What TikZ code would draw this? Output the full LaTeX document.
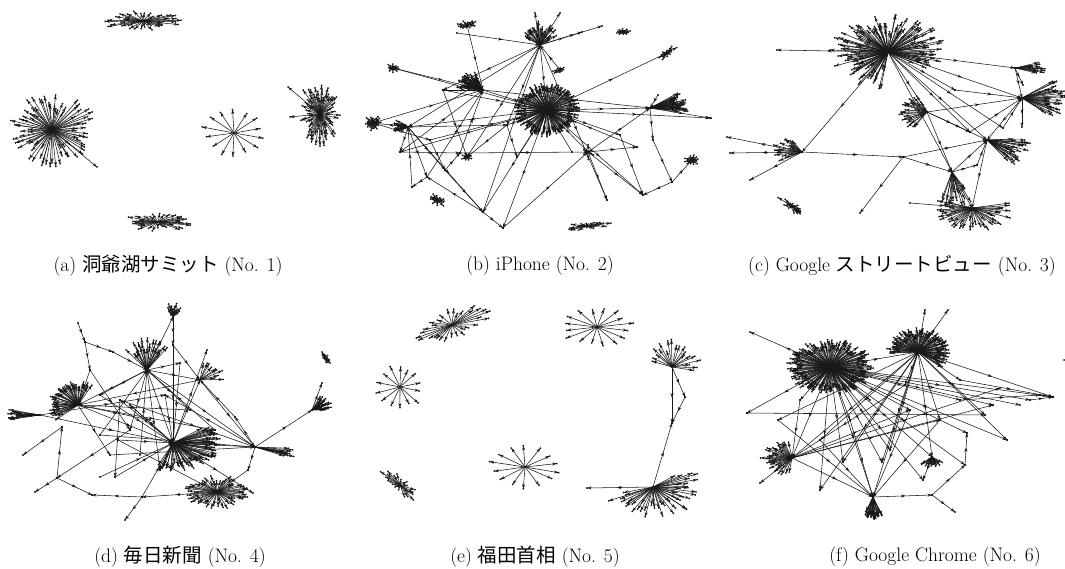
\documentclass[tikz,border=0pt]{standalone}
\usepackage{fontspec}
\newfontfamily\cjk{Noto Sans CJK JP}
\usetikzlibrary{arrows.meta,decorations.markings}
\tikzset{
  e/.style={draw=black!90, line width=0.55pt, -{Stealth[length=4.6pt,width=3pt]}},
  le/.style={e, postaction={decorate}, decoration={markings, mark=at position 0.55 with {\arrow{Stealth[length=4.6pt,width=3pt]}}}},
  captext/.style={font=\fontsize{19.5}{22}\selectfont, inner sep=0pt, anchor=center},
}
% hub, count, angle from, angle to, rx, ry, min radius fraction, rotation
\newcommand\hubfan[8]{%
  \foreach \k in {1,...,#2}{%
    \pgfmathsetmacro\ang{(#3)+((#4)-(#3))/(#2)*(\k-0.5)+3*rand}%
    \pgfmathsetmacro\rr{(#7)+(1-(#7))*rnd}%
    \pgfmathsetmacro\px{(#5)*\rr*cos(\ang)}%
    \pgfmathsetmacro\py{(#6)*\rr*sin(\ang)}%
    \pgfmathsetmacro\qx{\px*cos(#8)-(\py)*sin(#8)}%
    \pgfmathsetmacro\qy{\px*sin(#8)+(\py)*cos(#8)}%
    \draw[e] (#1) -- ++(\qx,\qy) coordinate (t);
    \fill[black!90] (t) circle (1);
  }}
\newcommand\links[1]{\foreach \u/\v in {#1}{\draw[le] (\u) -- (\v); \fill[black!90] (\u) circle (1.1) (\v) circle (1.1);}}
\begin{document}
\begin{tikzpicture}[x=1pt,y=-1pt]
\pgfmathsetseed{4242}
\fill[white] (0,0) rectangle (1065,569);
\useasboundingbox (0,0) rectangle (1065,569);

% ================= (a)
\coordinate (a1) at (143,21);
\coordinate (a2) at (52,130);
\coordinate (a3) at (234,133);
\coordinate (a4) at (320,114);
\coordinate (a5) at (158,222);
\coordinate (a2x) at (97,167);
\coordinate (a4x) at (288,87);
\coordinate (a4y) at (290,117);
\coordinate (a4z) at (303,90);
\hubfan{a1}{36}{0}{360}{43}{10}{0.45}{0}
\hubfan{a2}{80}{0}{360}{46}{38}{0.5}{0}
\hubfan{a3}{14}{0}{360}{33}{25}{0.8}{0}
\hubfan{a4}{64}{0}{360}{20}{33}{0.45}{0}
\hubfan{a5}{34}{0}{360}{40}{9}{0.45}{0}
\foreach \v in {a2x,a4x,a4y,a4z}{\fill[black!90] (\v) circle (1);}
\draw[e] (a2) -- (a2x);
\draw[e] (a4) -- (a4x);
\draw[e] (a4) -- (a4y);
\draw[e] (a4) -- (a4z);

% ================= (b)
\coordinate (bH) at (547,110);
\coordinate (bT) at (540,45);
\coordinate (bTL) at (467,25);
\coordinate (bTL2) at (457,33);
\coordinate (bTR) at (623,32);
\coordinate (bRD) at (667,53);
\coordinate (bB1) at (560,70);
\coordinate (bLT) at (393,68);
\coordinate (bL1) at (483,90);
\coordinate (bL2) at (408,127);
\coordinate (bLL) at (373,123);
\coordinate (bR) at (650,108);
\coordinate (bR2) at (658,95);
\coordinate (bM) at (588,152);
\coordinate (bBot) at (483,212);
\coordinate (bC) at (507,125);
\coordinate (bN1) at (460,153);
\coordinate (bN2) at (443,90);
\coordinate (bN3) at (427,177);
\coordinate (bN4) at (412,187);
\coordinate (bBl) at (437,200);
\coordinate (bN5) at (503,228);
\coordinate (bBB) at (587,226);
\coordinate (bN6) at (643,195);
\coordinate (bN7) at (672,182);
\coordinate (bBR) at (692,160);
\coordinate (bN8) at (710,118);
\coordinate (bN9) at (607,200);
\coordinate (bN10) at (637,147);
\coordinate (bN11) at (653,140);
\coordinate (bN12) at (467,157);
\coordinate (bN13) at (400,152);
\coordinate (bN14) at (445,170);
\coordinate (bN15) at (517,157);
\coordinate (bN16) at (572,152);
\coordinate (bN17) at (602,26);
\coordinate (bN18) at (535,13);
\coordinate (bN19) at (560,13);
\coordinate (bN20) at (582,32);
\coordinate (bN21) at (430,140);
\coordinate (bN22) at (620,135);
\hubfan{bH}{150}{0}{360}{33}{27}{0.75}{0}
\hubfan{bT}{30}{200}{340}{20}{24}{0.5}{0}
\hubfan{bTL}{12}{0}{360}{12}{5}{0.4}{-15}
\hubfan{bTR}{10}{0}{360}{9}{4}{0.4}{0}
\hubfan{bRD}{12}{0}{360}{12}{4}{0.4}{-35}
\hubfan{bB1}{8}{0}{360}{8}{4}{0.4}{-20}
\hubfan{bLT}{10}{0}{360}{9}{5}{0.4}{0}
\hubfan{bL1}{44}{185}{250}{27}{22}{0.5}{0}
\hubfan{bL2}{20}{150}{220}{15}{12}{0.4}{0}
\hubfan{bLL}{22}{0}{360}{9}{8}{0.4}{0}
\hubfan{bR}{32}{-30}{8}{38}{32}{0.6}{0}
\hubfan{bBR}{12}{0}{360}{8}{6}{0.4}{0}
\hubfan{bBB}{18}{0}{360}{25}{4}{0.3}{-5}
\hubfan{bBl}{16}{0}{360}{11}{5}{0.3}{25}
\hubfan{bN12}{8}{0}{360}{6}{5}{0.4}{0}
\hubfan{bM}{6}{0}{360}{8}{8}{0.5}{0}
\links{bT/bH,bT/bN2,bT/bL2,bT/bN12,bT/bN9,bT/bN17,bT/bN18,bT/bN19,bT/bN20,bTL2/bT,bTL/bL1,bL1/bH,bLT/bH,bH/bR,bH/bN8,bH/bBot,bH/bN5,bH/bM,bH/bN6,bH/bRD,bH/bL2,bH/bN13,bL2/bLL,bL2/bN13,bL2/bC,bN2/bN12,bN1/bM,bBot/bN3,bBot/bN5,bN5/bM,bM/bN9,bM/bR,bR/bN11,bN11/bN7,bN7/bN6,bN7/bBR,bL2/bN3,bN3/bN4,bN14/bBot,bLL/bL1,bC/bH,bC/bN15,bN15/bH,bN16/bH,bN10/bH,bR2/bR,bB1/bT,bN2/bL1,bL2/bN14,bN14/bN1,bLT/bL1,bT/bC,bL2/bBot,bN13/bN1,bBot/bT,bN3/bL1,bN13/bL1,bN4/bL2,bM/bN10,bN1/bL1,bC/bN12,bR/bN8,bM/bN6,bN21/bH,bLL/bN21,bN21/bN14,bH/bN22,bN22/bN6,bL1/bR,bN2/bH}

% ================= (c)
\coordinate (cH) at (888,52);
\coordinate (cL) at (777,50);
\coordinate (cR1) at (1015,68);
\coordinate (cR2) at (1022,98);
\coordinate (cM1) at (927,112);
\coordinate (cR3) at (987,140);
\coordinate (cLft) at (802,152);
\coordinate (cN) at (903,157);
\coordinate (cB1) at (952,172);
\coordinate (cB2) at (972,208);
\coordinate (cSm) at (793,207);
\coordinate (cE) at (860,213);
\coordinate (cTiny) at (711,118);
\coordinate (cP1) at (955,90);
\coordinate (cP2) at (1023,85);
\coordinate (cP3) at (970,132);
\coordinate (cP4) at (977,165);
\coordinate (cP5) at (1003,128);
\coordinate (cP6) at (1022,127);
\coordinate (cP7) at (727,137);
\coordinate (cP8) at (730,153);
\coordinate (cP9) at (750,180);
\coordinate (cP10) at (910,203);
\hubfan{cH}{130}{95}{395}{58}{38}{0.45}{0}
\hubfan{cR1}{14}{-20}{20}{32}{20}{0.5}{0}
\hubfan{cR2}{32}{-40}{45}{45}{30}{0.5}{0}
\hubfan{cM1}{24}{120}{250}{28}{22}{0.4}{0}
\hubfan{cR3}{26}{-5}{55}{48}{35}{0.5}{0}
\hubfan{cLft}{18}{150}{240}{30}{22}{0.4}{0}
\hubfan{cB1}{18}{55}{110}{40}{35}{0.5}{0}
\hubfan{cB2}{42}{-15}{205}{42}{24}{0.5}{0}
\hubfan{cSm}{16}{0}{360}{20}{5}{0.3}{35}
\fill[black!90] (cTiny) circle (1);
\links{cH/cL,cH/cR1,cH/cR2,cH/cP1,cH/cM1,cH/cR3,cH/cB1,cH/cLft,cH/cP3,cLft/cN,cLft/cP7,cLft/cP8,cLft/cP9,cN/cR3,cN/cB1,cN/cE,cM1/cB1,cM1/cR2,cR1/cR2,cR2/cR3,cR3/cB2,cB1/cR3,cB1/cB2,cR2/cP6,cP1/cR2,cP3/cR2,cP5/cR2,cB1/cP4,cP4/cR3,cR1/cP2,cM1/cP3,cH/cP5,cP10/cB2,cM1/cR3}

% ================= (d)
\coordinate (dA) at (147,370);
\coordinate (dTop) at (173,317);
\coordinate (dB) at (78,405);
\coordinate (dLf) at (40,415);
\coordinate (dC) at (173,443);
\coordinate (dD) at (217,492);
\coordinate (dE) at (255,447);
\coordinate (dF) at (312,410);
\coordinate (dG) at (200,380);
\coordinate (dBot) at (142,497);
\coordinate (dN) at (57,478);
\coordinate (dTR) at (325,357);
\coordinate (dN2) at (78,323);
\coordinate (dN3) at (85,342);
\coordinate (dN4) at (113,352);
\coordinate (dP1) at (90,370);
\coordinate (dP2) at (23,455);
\coordinate (dP3) at (35,492);
\coordinate (dP4) at (125,520);
\coordinate (dP5) at (92,495);
\coordinate (dP6) at (248,470);
\coordinate (dP7) at (253,493);
\coordinate (dP8) at (235,417);
\coordinate (dP9) at (297,427);
\coordinate (dP10) at (62,427);
\coordinate (dP11) at (115,477);
\coordinate (dP12) at (100,477);
\coordinate (dP13) at (207,350);
\coordinate (dP14) at (180,363);
\coordinate (dP15) at (130,430);
\coordinate (dP16) at (120,400);
\coordinate (dP17) at (160,470);
\coordinate (dP18) at (110,455);
\coordinate (dP19) at (322,383);
\coordinate (dP20) at (100,395);
\coordinate (dQ1) at (130,405);
\coordinate (dQ2) at (150,420);
\coordinate (dQ3) at (118,440);
\coordinate (dQ4) at (190,410);
\coordinate (dQ5) at (165,395);
\coordinate (dQ6) at (100,435);
\coordinate (dQ7) at (140,455);
\coordinate (dQ8) at (215,430);
\coordinate (dQ9) at (173,345);
\hubfan{dA}{26}{225}{315}{32}{32}{0.6}{0}
\hubfan{dTop}{12}{230}{320}{14}{14}{0.4}{0}
\hubfan{dB}{48}{140}{300}{30}{24}{0.75}{0}
\hubfan{dLf}{14}{165}{195}{32}{20}{0.6}{0}
\hubfan{dC}{64}{-40}{110}{48}{28}{0.7}{0}
\hubfan{dD}{54}{0}{360}{33}{17}{0.6}{0}
\hubfan{dE}{12}{2}{18}{40}{40}{0.7}{0}
\hubfan{dF}{22}{-65}{0}{22}{16}{0.4}{0}
\hubfan{dG}{10}{270}{360}{28}{18}{0.5}{0}
\hubfan{dTR}{10}{0}{360}{10}{3}{0.3}{55}
\links{dA/dTop,dA/dC,dA/dB,dN4/dA,dA/dP14,dA/dG,dA/dP15,dA/dP17,dB/dC,dLf/dC,dC/dE,dC/dP7,dC/dG,dC/dP13,dE/dP8,dE/dF,dE/dP6,dP6/dD,dD/dBot,dBot/dP4,dBot/dP5,dBot/dC,dN/dP3,dN/dP5,dN/dP10,dP10/dP2,dN3/dP1,dN2/dN3,dN3/dN4,dP1/dB,dP16/dE,dP12/dC,dP11/dC,dP18/dE,dG/dE,dP8/dG,dC/dP17,dF/dP19,dA/dE,dB/dP18,dP15/dN,dP20/dC,dA/dP20,dP16/dP11,dP1/dP15,dB/dQ2,dQ1/dC,dQ4/dB,dA/dQ4,dQ5/dC,dQ3/dC,dQ6/dA,dQ7/dA,dQ8/dA,dC/dQ1,dB/dQ8,dLf/dQ5,dG/dB,dE/dQ5,dC/dP16,dP14/dC,dQ9/dC,dTop/dQ9,dQ9/dG,dQ6/dE,dQ3/dD}

% ================= (e)
\coordinate (e1) at (452,325);
\coordinate (e2) at (597,327);
\coordinate (e3) at (672,367);
\coordinate (e4) at (685,397);
\coordinate (e5) at (672,423);
\coordinate (e6) at (400,387);
\coordinate (e7) at (525,467);
\coordinate (e8) at (400,485);
\coordinate (e9) at (653,487);
\coordinate (e9L) at (587,488);
\hubfan{e1}{30}{0}{360}{42}{17}{0.55}{-22}
\hubfan{e2}{16}{0}{360}{37}{21}{0.75}{0}
\hubfan{e3}{20}{195}{375}{30}{28}{0.55}{0}
\hubfan{e6}{14}{0}{360}{25}{25}{0.7}{0}
\hubfan{e7}{14}{0}{360}{37}{22}{0.8}{0}
\hubfan{e8}{20}{0}{360}{24}{8}{0.4}{38}
\hubfan{e9}{45}{-42}{165}{50}{32}{0.5}{0}
\links{e3/e5,e3/e4,e4/e5,e9/e5,e9/e9L}

% ================= (f)
\coordinate (fA) at (830,367);
\coordinate (fB) at (918,352);
\coordinate (fC) at (792,458);
\coordinate (fD) at (873,497);
\coordinate (fE) at (932,457);
\coordinate (fR) at (1053,397);
\coordinate (fF) at (932,495);
\coordinate (fG) at (955,512);
\coordinate (fQ1) at (750,332);
\coordinate (fQ2) at (747,413);
\coordinate (fQ3) at (1007,440);
\coordinate (fQ4) at (1020,405);
\coordinate (fQ5) at (993,405);
\coordinate (fQ6) at (965,465);
\coordinate (fQ7) at (967,433);
\coordinate (fQ8) at (882,462);
\coordinate (fQ9) at (890,450);
\coordinate (fQ10) at (843,462);
\coordinate (fQ11) at (760,483);
\coordinate (fQ12) at (820,490);
\coordinate (fQ13) at (923,480);
\coordinate (fQ14) at (910,410);
\coordinate (fQ15) at (948,310);
\coordinate (fQ16) at (925,310);
\coordinate (fTiny) at (1064,360);
\coordinate (fQ17) at (778,420);
\coordinate (fQ18) at (870,400);
\coordinate (fQ19) at (960,380);
\coordinate (fQ20) at (1000,388);
\coordinate (fQ21) at (985,415);
\coordinate (fQ22) at (800,400);
\coordinate (fQ23) at (850,420);
\coordinate (fQ24) at (940,420);
\coordinate (fQ25) at (905,385);
\coordinate (fQ26) at (960,400);
\coordinate (fQ27) at (820,440);
\coordinate (fQ28) at (1040,395);
\coordinate (fQ29) at (1030,400);
\hubfan{fA}{180}{0}{360}{44}{28}{0.7}{0}
\hubfan{fB}{100}{175}{400}{32}{24}{0.65}{0}
\hubfan{fC}{32}{95}{265}{32}{18}{0.6}{0}
\hubfan{fD}{28}{65}{115}{22}{22}{0.7}{0}
\hubfan{fE}{16}{30}{150}{14}{12}{0.5}{0}
\fill[black!90] (fTiny) circle (1);
\links{fA/fQ1,fA/fQ2,fA/fR,fB/fR,fQ19/fR,fA/fQ3,fA/fQ4,fA/fQ5,fA/fC,fA/fD,fA/fQ8,fA/fQ9,fA/fQ10,fA/fQ18,fA/fQ14,fA/fQ7,fA/fE,fB/fC,fB/fD,fB/fE,fB/fQ15,fB/fQ16,fB/fQ19,fB/fQ17,fB/fQ12,fC/fD,fC/fQ11,fC/fQ20,fC/fQ5,fC/fQ14,fD/fF,fF/fG,fF/fQ6,fQ6/fQ7,fE/fQ13,fA/fB,fQ2/fQ21,fB/fQ21,fA/fQ6,fQ17/fD,fB/fQ10,fA/fQ12,fB/fQ3,fA/fQ22,fQ22/fC,fA/fQ23,fQ23/fD,fB/fQ24,fQ24/fD,fB/fQ25,fQ25/fC,fA/fQ26,fQ26/fQ28,fQ28/fR,fQ29/fR,fA/fQ29,fB/fQ27,fQ27/fD,fC/fQ24,fA/fQ13,fB/fQ8,fQ14/fD,fB/fQ9}

% ================= captions
\node[captext] (ca) at (168,266) {(a) {\cjk 洞爺湖サミット} (No. 1)};
\node[captext] (cb) at (540,266) {(b) iPhone (No. 2)};
\node[captext] (cc) at (902,266) {(c) Google {\cjk ストリートビュー} (No. 3)};
\node[captext] (cd) at (180,557) {(d) {\cjk 毎日新聞} (No. 4)};
\node[captext] (ce) at (535,557) {(e) {\cjk 福田首相} (No. 5)};
\node[captext] (cf) at (935,557) {(f) Google Chrome (No. 6)};
\end{tikzpicture}
\end{document}
